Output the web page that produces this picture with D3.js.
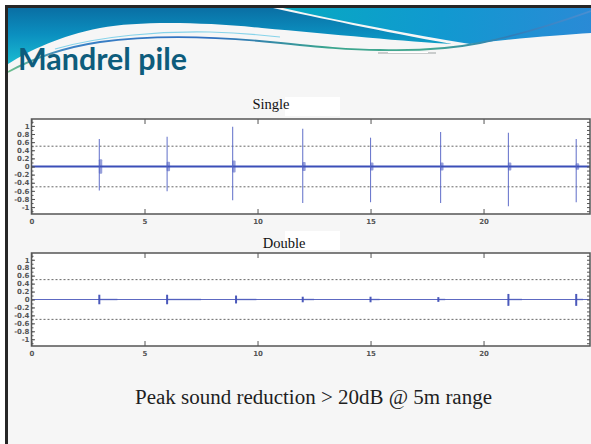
<!DOCTYPE html>
<html><head><meta charset="utf-8">
<script src="https://cdn.jsdelivr.net/npm/d3@7"></script>
<style>html,body{margin:0;padding:0;background:#fff;}svg{display:block;}</style>
</head><body>
<svg id="c" width="591" height="444"></svg>
<script>
// ---------- data ----------
const xTicks = [0, 5, 10, 15, 20];
const yTicks = [1, 0.8, 0.6, 0.4, 0.2, 0, -0.2, -0.4, -0.6, -0.8, -1];
const threshold = [0.5, -0.5];

const singleTimes = [3.0, 6.0, 8.9, 12.0, 15.0, 18.1, 21.1, 24.1];
const singleMax   = [0.68, 0.73, 0.98, 0.93, 0.71, 0.85, 0.83, 0.68];
const singleMin   = [-0.59, -0.61, -0.83, -0.90, -0.88, -0.90, -0.98, -0.88];
const singleRing  = [0.18, 0.12, 0.15, 0.11, 0.10, 0.10, 0.10, 0.08];

const doubleTimes = [3.0, 6.0, 9.05, 12.0, 15.0, 18.0, 21.1, 24.1];
const doubleMax   = [0.12, 0.12, 0.10, 0.07, 0.07, 0.06, 0.14, 0.14];
const doubleMin   = [-0.12, -0.12, -0.10, -0.07, -0.07, -0.06, -0.16, -0.16];
const doubleTail  = [0.8, 1.5, 0.9, 0.5, 0.4, 0.3, 0.6, 0.3];

const titleText = "Mandrel pile";
const noteText = "Peak sound reduction > 20dB  @ 5m range";

// ---------- drawing ----------
const svg = d3.select("#c");
const defs = svg.append("defs");

function grad(id, x1, y1, x2, y2, stops) {
  const g = defs.append("linearGradient").attr("id", id)
    .attr("gradientUnits", "userSpaceOnUse")
    .attr("x1", x1).attr("y1", y1).attr("x2", x2).attr("y2", y2);
  stops.forEach(s => g.append("stop").attr("offset", s[0]).attr("stop-color", s[1]));
}
grad("gLeft", 0, 8, 0, 62, [[0, "#0a6fa4"], [0.5, "#0b90c0"], [1, "#1ab9d0"]]);
grad("gRight", 290, 8, 591, 40, [[0, "#07a9c2"], [0.5, "#1199d0"], [1, "#2a8ad6"]]);
grad("gLine", 8, 0, 591, 0, [[0, "#6cbf8c"], [0.1, "#3a82c6"], [0.35, "#2f6fc0"], [0.55, "#3aa58e"], [0.72, "#45a890"], [0.86, "#2f7cb8"], [1, "#4b8fd2"]]);

// page
svg.append("rect").attr("width", 591).attr("height", 444).attr("fill", "#ffffff");
svg.append("rect").attr("x", 8).attr("y", 8).attr("width", 583).attr("height", 436).attr("fill", "#f6f6f6");

// header wave (decoration)
svg.append("path").attr("fill", "url(#gLeft)")
  .attr("d", "M8,8 L273,8 C320,18 380,31 452,44 C410,42 330,34 262,28 C200,22 140,21 100,28 C60,36 30,50 8,64 Z");
svg.append("path").attr("fill", "url(#gRight)")
  .attr("d", "M283,8 L591,8 L591,33 C560,35 520,38 470,44 C410,34 345,22 283,8 Z");
svg.append("path").attr("fill", "none").attr("stroke", "#86d3ea").attr("stroke-width", 1.2)
  .attr("d", "M55,49 C100,36 160,31 210,32 C240,33 262,35 280,37");
svg.append("path").attr("fill", "none").attr("stroke", "url(#gLine)").attr("stroke-width", 1.8)
  .attr("d", "M8,72 C30,60 60,48 100,42 C150,35 210,36 270,42 C320,47 350,50 380,50 C420,51 450,49 480,43 C520,35 560,22 591,11");
svg.append("path").attr("fill", "none").attr("stroke", "#c9cccc").attr("stroke-width", 2.2)
  .attr("d", "M378,53 L436,53");
svg.append("path").attr("fill", "none").attr("stroke", "#ffffff").attr("stroke-width", 1)
  .attr("d", "M388,52.5 L428,52.5");

// borders
svg.append("rect").attr("x", 5).attr("y", 5).attr("width", 586).attr("height", 3).attr("fill", "#262626");
svg.append("rect").attr("x", 5).attr("y", 5).attr("width", 3).attr("height", 439).attr("fill", "#262626");

// title
svg.append("text").attr("x", 18).attr("y", 70)
  .attr("font-family", "Lato, 'Open Sans', sans-serif").attr("font-weight", "bold")
  .attr("font-size", 30).attr("fill", "#0d5c7c")
  .attr("textLength", 169).attr("lengthAdjust", "spacingAndGlyphs")
  .text(titleText);

// note
svg.append("text").attr("x", 135).attr("y", 404)
  .attr("font-family", "'Liberation Serif', 'DejaVu Serif', serif")
  .attr("font-size", 20).attr("fill", "#1e1e1e")
  .attr("textLength", 357).attr("lengthAdjust", "spacingAndGlyphs")
  .text(noteText);

// panels
const x = d3.scaleLinear().domain([0, 24.71]).range([31.5, 590]);
const panels = [
  { title: "Single", titleX: 271, titleY: 109, top: 119, bottom: 214,
    times: singleTimes, max: singleMax, min: singleMin, ring: singleRing, tail: null,
    base: { w: 2, c: "#3b4fb8" }, spike: { w: 1.1, c: "#5564c6", o: 0.85 } },
  { title: "Double", titleX: 284, titleY: 248, top: 253, bottom: 346,
    times: doubleTimes, max: doubleMax, min: doubleMin, ring: null, tail: doubleTail,
    base: { w: 1, c: "#5d69c2" }, spike: { w: 2, c: "#4251b8", o: 0.95 } }
];

const fmt = d => (Math.abs(d) < 1e-9 ? "0" : String(+d.toFixed(1)));

panels.forEach(p => {
  const y = d3.scaleLinear().domain([-1.17, 1.17]).range([p.bottom, p.top]);
  const g = svg.append("g");

  g.append("rect").attr("x", 285).attr("y", p.top - 22).attr("width", 55).attr("height", 19).attr("fill", "#ffffff");
  g.append("text").attr("x", p.titleX).attr("y", p.titleY).attr("text-anchor", "middle")
    .attr("font-family", "'Liberation Serif', 'DejaVu Serif', serif").attr("font-size", 14.5)
    .attr("fill", "#111").text(p.title);

  g.append("rect").attr("x", x(0)).attr("y", p.top).attr("width", x.range()[1] - x(0))
    .attr("height", p.bottom - p.top).attr("fill", "#ffffff");

  g.selectAll("line.th").data(threshold).join("line").attr("class", "th")
    .attr("x1", x(0)).attr("x2", x.range()[1]).attr("y1", d => y(d)).attr("y2", d => y(d))
    .attr("stroke", "#666").attr("stroke-width", 1).attr("stroke-dasharray", "2,2");

  g.append("line").attr("x1", x(0)).attr("x2", x.range()[1]).attr("y1", y(0)).attr("y2", y(0))
    .attr("stroke", p.base.c).attr("stroke-width", p.base.w);

  if (p.tail) {
    g.selectAll("rect.tail").data(p.times).join("rect").attr("class", "tail")
      .attr("x", d => x(d)).attr("width", (d, i) => x(d + p.tail[i]) - x(d))
      .attr("y", y(0.02)).attr("height", y(-0.02) - y(0.02))
      .attr("fill", "#4a57bb").attr("opacity", 0.5);
  }
  if (p.ring) {
    g.selectAll("rect.ring").data(p.times).join("rect").attr("class", "ring")
      .attr("x", d => x(d) - 0.5).attr("width", d => x(d + 0.13) - x(d) + 0.5)
      .attr("y", (d, i) => y(p.ring[i])).attr("height", (d, i) => y(-p.ring[i]) - y(p.ring[i]))
      .attr("rx", 1).attr("fill", "#3f50bb").attr("opacity", 0.55);
  }
  g.selectAll("line.sp").data(p.times).join("line").attr("class", "sp")
    .attr("x1", d => x(d)).attr("x2", d => x(d))
    .attr("y1", (d, i) => y(p.max[i])).attr("y2", (d, i) => y(p.min[i]))
    .attr("stroke", p.spike.c).attr("stroke-width", p.spike.w).attr("opacity", p.spike.o);

  const ax = (axis, tx, ty) => {
    const a = g.append("g").attr("transform", `translate(${tx},${ty})`).call(axis);
    a.select(".domain").remove();
    a.selectAll("line").attr("stroke", "#555");
    a.selectAll("text").attr("font-family", "'DejaVu Sans', sans-serif").attr("font-size", 7)
      .attr("font-weight", "bold").attr("fill", "#555");
    return a;
  };
  ax(d3.axisBottom(x).tickValues(xTicks).tickSizeInner(-5).tickSizeOuter(0).tickPadding(5).tickFormat(d3.format("d")), 0, p.bottom);
  ax(d3.axisTop(x).tickValues(xTicks).tickSizeInner(-5).tickSizeOuter(0).tickFormat(""), 0, p.top);
  const minor = d3.range(-11, 12).map(v => v / 10);
  ax(d3.axisLeft(y).tickValues(minor).tickSizeInner(-2).tickSizeOuter(0).tickFormat(""), x(0), 0);
  ax(d3.axisLeft(y).tickValues(yTicks).tickSizeInner(-3.5).tickSizeOuter(0).tickPadding(2).tickFormat(fmt), x(0), 0);
  ax(d3.axisRight(y).tickValues(minor).tickSizeInner(-3).tickSizeOuter(0).tickFormat(""), x.range()[1], 0);

  g.append("rect").attr("x", x(0)).attr("y", p.top).attr("width", x.range()[1] - x(0))
    .attr("height", p.bottom - p.top).attr("fill", "none").attr("stroke", "#555").attr("stroke-width", 1.5);
});
</script>
</body></html>
